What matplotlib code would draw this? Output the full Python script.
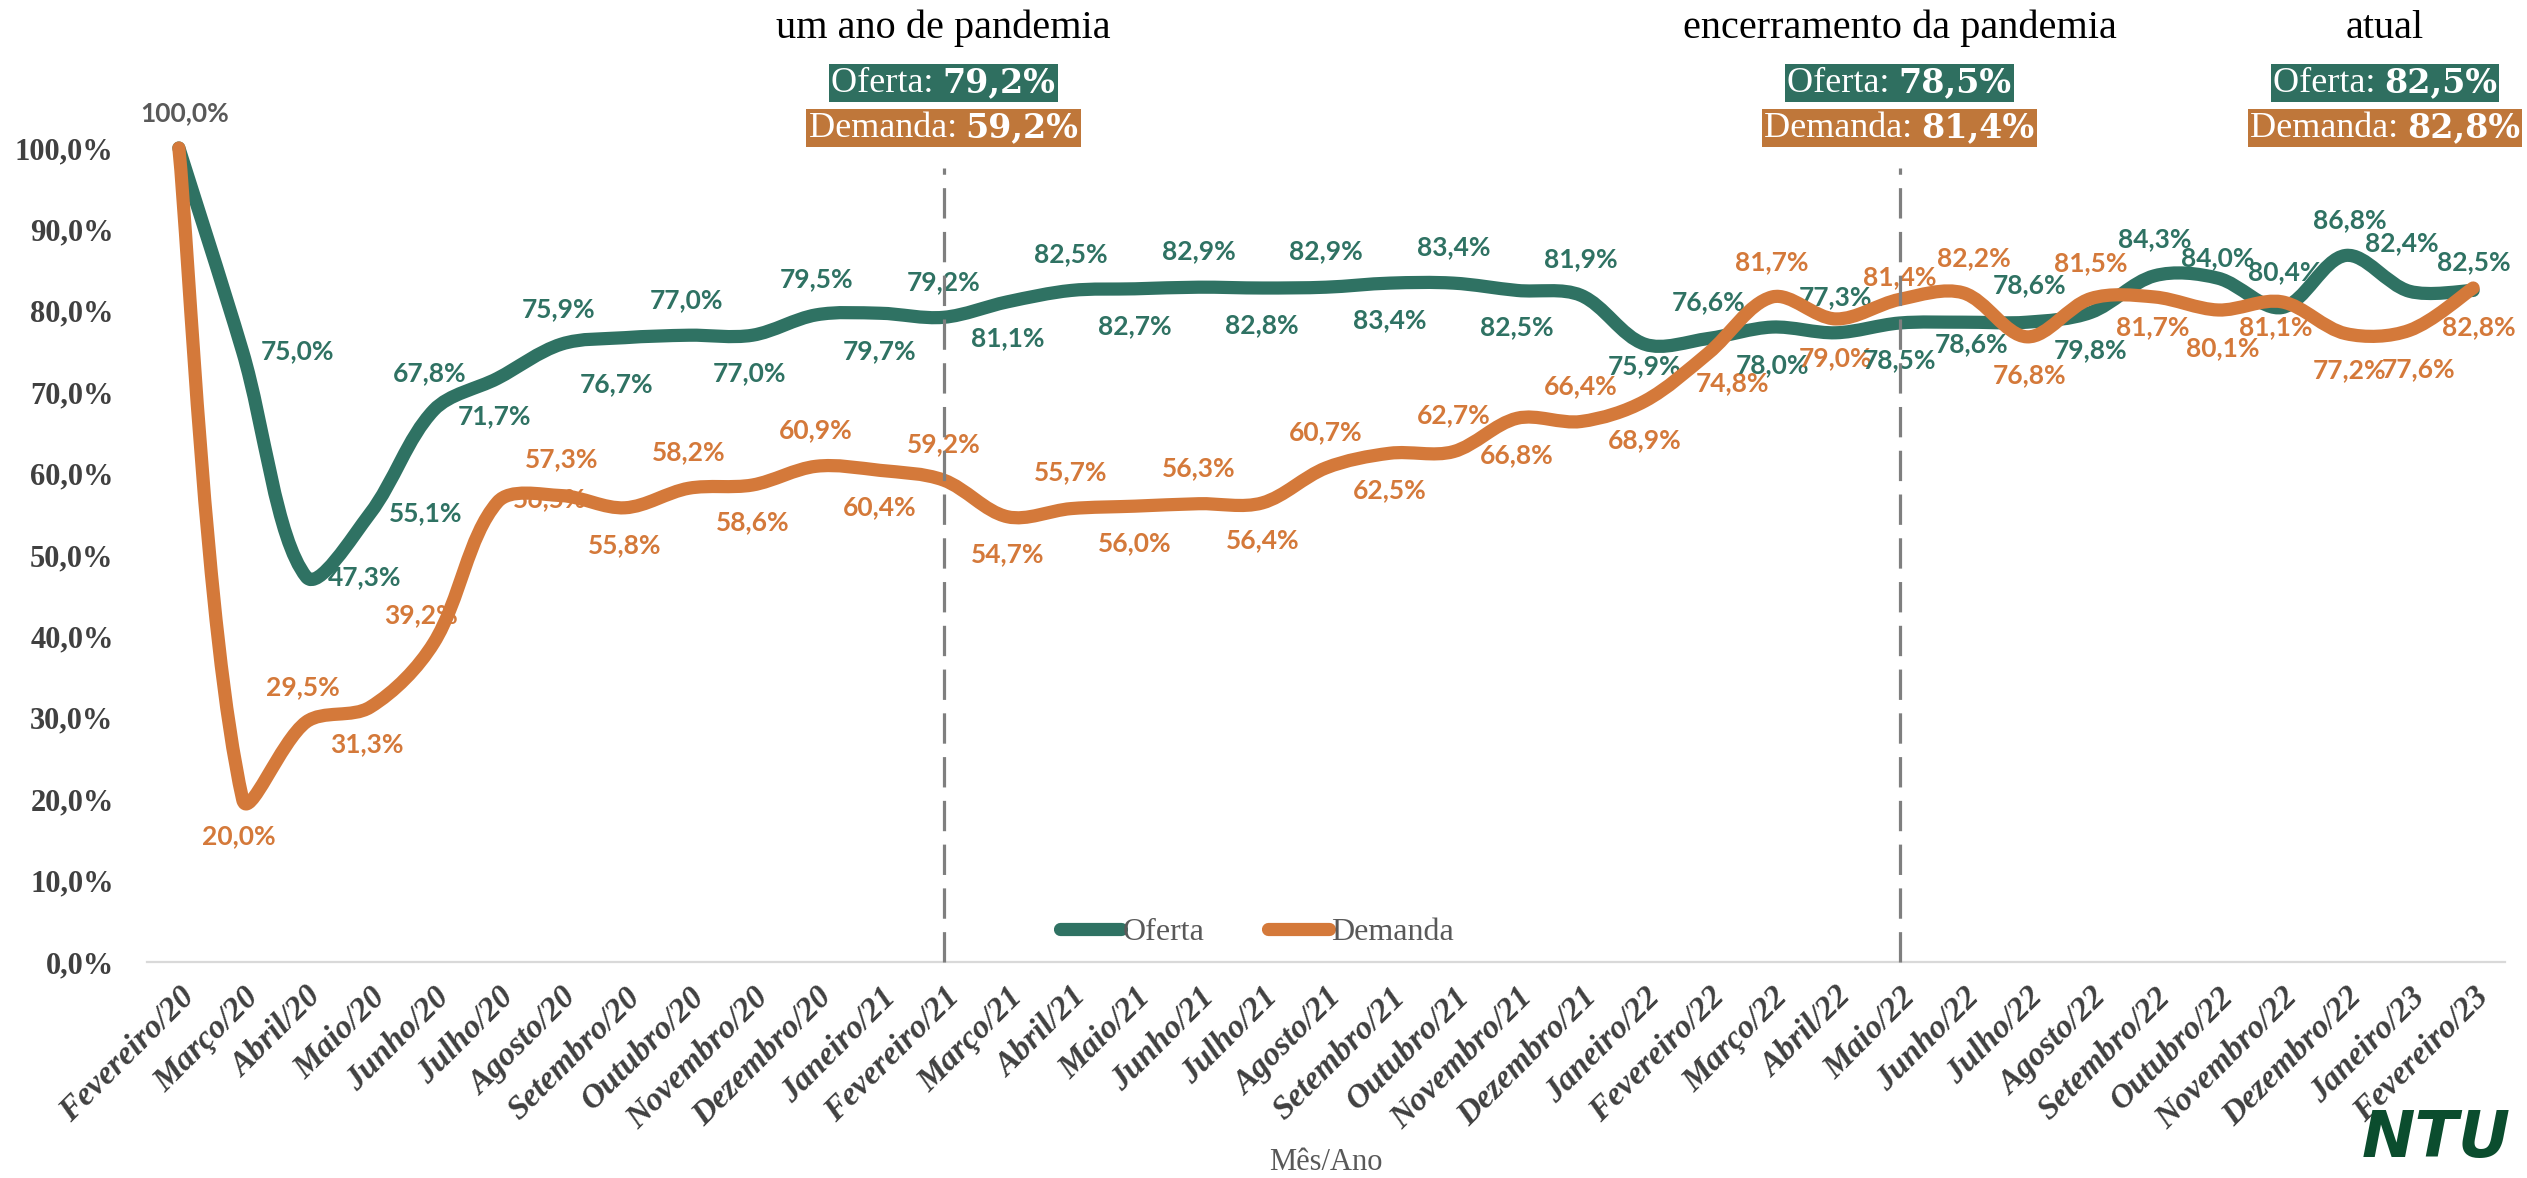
import matplotlib
matplotlib.use("Agg")
import matplotlib.pyplot as plt
import matplotlib.transforms as mtransforms
from matplotlib.path import Path
from matplotlib.patches import PathPatch
from matplotlib.lines import Line2D
from matplotlib.offsetbox import TextArea, HPacker, AnnotationBbox
import numpy as np

# ---------------- data ----------------
months = ["Fevereiro/20", "Março/20", "Abril/20", "Maio/20", "Junho/20", "Julho/20",
          "Agosto/20", "Setembro/20", "Outubro/20", "Novembro/20", "Dezembro/20",
          "Janeiro/21", "Fevereiro/21", "Março/21", "Abril/21", "Maio/21", "Junho/21",
          "Julho/21", "Agosto/21", "Setembro/21", "Outubro/21", "Novembro/21",
          "Dezembro/21", "Janeiro/22", "Fevereiro/22", "Março/22", "Abril/22",
          "Maio/22", "Junho/22", "Julho/22", "Agosto/22", "Setembro/22", "Outubro/22",
          "Novembro/22", "Dezembro/22", "Janeiro/23", "Fevereiro/23"]

oferta = [100.0, 75.0, 47.3, 55.1, 67.8, 71.7, 75.9, 76.7, 77.0, 77.0, 79.5, 79.7,
          79.2, 81.1, 82.5, 82.7, 82.9, 82.8, 82.9, 83.4, 83.4, 82.5, 81.9, 75.9,
          76.6, 78.0, 77.3, 78.5, 78.6, 78.6, 79.8, 84.3, 84.0, 80.4, 86.8, 82.4, 82.5]

demanda = [100.0, 20.0, 29.5, 31.3, 39.2, 56.5, 57.3, 55.8, 58.2, 58.6, 60.9, 60.4,
           59.2, 54.7, 55.7, 56.0, 56.3, 56.4, 60.7, 62.5, 62.7, 66.8, 66.4, 68.9,
           74.8, 81.7, 79.0, 81.4, 82.2, 76.8, 81.5, 81.7, 80.1, 81.1, 77.2, 77.6, 82.8]

events = ["um ano de pandemia", "encerramento da pandemia", "atual"]
event_idx = [12, 27, 36]

yticks = [0, 10, 20, 30, 40, 50, 60, 70, 80, 90, 100]

# ---------------- styles ----------------
C_OF = "#2F7263"
C_DE = "#D4793A"
C_OF_BOX = "#2F6F60"
C_DE_BOX = "#BF773A"
C_TXT = "#404040"
C_GRAY = "#595959"

# label offsets in pixels (dx, dy up)
OF_OFF = [(6, 35), (55, 0), (58, 0), (56, 0), (-4, 37), (-3, -38), (-3, 35), (-8, -46),
          (-2, 35), (-3, -38), (0, 36), (0, -38), (0, 35), (0, -36), (0, 36), (0, -37),
          (0, 36), (0, -37), (0, 36), (0, -37), (0, 36), (0, -37), (0, 36), (0, -22),
          (0, 36), (0, -38), (0, 36), (0, -37), (8, -22), (3, 37), (0, -38), (0, 37),
          (0, 20), (3, 35), (4, 35), (-8, 48), (1, 28)]
DE_OFF = [None, (-4, -37), (-3, 35), (-3, -37), (-13, 28), (52, 3), (0, 36), (0, -37),
          (0, 36), (0, -37), (0, 36), (0, -37), (0, 36), (0, -37), (0, 36), (0, -37),
          (0, 36), (0, -37), (0, 36), (0, -37), (0, 36), (0, -37), (0, 35), (0, -39),
          (24, -30), (0, 35), (0, -39), (0, 22), (11, 35), (3, -38), (0, 35), (-2, -30),
          (5, -38), (-6, -25), (4, -37), (9, -39), (6, -39)]

W, H = 2527, 1178
fig = plt.figure(figsize=(W / 100, H / 100), dpi=100)
AX_W_PX, AX_H_PX = 2358, 814
ax = fig.add_axes([147 / W, 1 - 962 / H, AX_W_PX / W, AX_H_PX / H])

n = len(months)
x = np.arange(n)
XSCALE = AX_W_PX / n        # pixels per category
YSCALE = AX_H_PX / 100.0    # pixels per percent


def smooth_path(xs, ys):
    """Excel-like smoothed line: cubic Bezier with chord-length scaled tangents."""
    pts = np.column_stack([xs, ys]).astype(float)
    scale = np.array([XSCALE, YSCALE])
    m = len(pts)

    def dist(a, b):
        return float(np.hypot(*((pts[a] - pts[b]) * scale)))

    verts = [pts[0]]
    codes = [Path.MOVETO]
    for i in range(m - 1):
        p1, p2 = pts[i], pts[i + 1]
        i0 = i - 1 if i > 0 else i
        i3 = i + 2 if i + 2 < m else i + 1
        d12 = dist(i, i + 1)
        d01 = dist(i0, i) if i0 != i else d12
        d23 = dist(i + 1, i3) if i3 != i + 1 else d12
        c1 = p1 + (p2 - pts[i0]) * (d12 / (d01 + d12)) / 3.0
        c2 = p2 - (pts[i3] - p1) * (d12 / (d12 + d23)) / 3.0
        verts += [c1, c2, p2]
        codes += [Path.CURVE4] * 3
    return Path(verts, codes)


for vals, col, z in [(oferta, C_OF, 3), (demanda, C_DE, 4)]:
    patch = PathPatch(smooth_path(x, vals), fill=False, edgecolor=col, lw=9.5,
                      capstyle="round", joinstyle="round", zorder=z, clip_on=False)
    ax.add_patch(patch)

ax.set_xlim(-0.5, n - 0.5)
ax.set_ylim(0, 100)


def fmt(v):
    return f"{v:.1f}".replace(".", ",") + "%"


# data labels
for i in range(n):
    dx, dy = OF_OFF[i]
    col = C_GRAY if i == 0 else C_OF
    ax.annotate(fmt(oferta[i]), xy=(i, oferta[i]), xytext=(dx * 0.72, dy * 0.72),
                textcoords="offset points", ha="center", va="center",
                fontsize=19, fontweight="bold", family="Lato", color=col,
                zorder=2, annotation_clip=False)
    if DE_OFF[i] is not None:
        dx, dy = DE_OFF[i]
        ax.annotate(fmt(demanda[i]), xy=(i, demanda[i]), xytext=(dx * 0.72, dy * 0.72),
                    textcoords="offset points", ha="center", va="center",
                    fontsize=19, fontweight="bold", family="Lato", color=C_DE,
                    zorder=2, annotation_clip=False)

# dashed event lines
for idx in event_idx[:2]:
    ax.plot([idx, idx], [0, 97.5], color="#7F7F7F", lw=2.3, dashes=(9.5, 4.2),
            zorder=6, clip_on=False)

# axes styling
for s in ["top", "right", "left"]:
    ax.spines[s].set_visible(False)
ax.spines["bottom"].set_color("#D9D9D9")
ax.spines["bottom"].set_linewidth(1.6)
ax.spines["bottom"].set_zorder(1)

ax.set_yticks(yticks)
ax.set_yticklabels([fmt(v) for v in yticks], family="Liberation Serif",
                   fontweight="bold", fontsize=22, color=C_TXT)
ax.tick_params(axis="y", length=0, pad=24)
ax.set_xticks(x)
ax.set_xticklabels(months, rotation=45, ha="right", va="top", rotation_mode="anchor",
                   family="Liberation Serif", fontweight="bold", fontstyle="italic",
                   fontsize=24, color=C_TXT)
ax.tick_params(axis="x", length=0, pad=14)

fig.text(1326 / W, 1 - 1162 / H, "Mês/Ano", ha="center", va="center",
         family="Liberation Serif", fontsize=22, color=C_GRAY)

# legend
handles = [Line2D([0], [0], color=C_OF, lw=9.5, solid_capstyle="round"),
           Line2D([0], [0], color=C_DE, lw=9.5, solid_capstyle="round")]
leg = ax.legend(handles, ["Oferta", "Demanda"], loc="center",
                bbox_to_anchor=(0.4707, 0.036), ncol=2, frameon=False,
                prop={"family": "Liberation Serif", "size": 23},
                handlelength=1.9, handletextpad=0.05, columnspacing=2.0)
for t in leg.get_texts():
    t.set_color(C_GRAY)

# event titles and boxes
blend = mtransforms.blended_transform_factory(ax.transData, fig.transFigure)
for k, (name, idx) in enumerate(zip(events, event_idx)):
    if k < 2:
        xpos, tr = idx, blend
    else:
        xpos, tr = 2385 / W, fig.transFigure
    fig.text(xpos, 1 - 38 / H, name, ha="center", va="baseline", transform=tr,
             family="Liberation Serif", fontsize=29, color="black")
    for lab, val, col, yc in [("Oferta: ", oferta[idx], C_OF_BOX, 83),
                              ("Demanda: ", demanda[idx], C_DE_BOX, 128)]:
        t1 = TextArea(lab, textprops=dict(family="Liberation Serif", fontsize=26,
                                          color="white"))
        t2 = TextArea(fmt(val), textprops=dict(family="DejaVu Serif", fontsize=24,
                                               fontweight="bold", color="white"))
        pack = HPacker(children=[t1, t2], align="baseline", pad=0, sep=0)
        ab = AnnotationBbox(pack, (xpos, 1 - yc / H), xycoords=tr,
                            box_alignment=(0.5, 0.5), frameon=True, pad=0.15,
                            bboxprops=dict(facecolor=col, edgecolor="none",
                                           boxstyle="square,pad=0.15"),
                            annotation_clip=False, zorder=10)
        fig.add_artist(ab)

# logo
fig.text(2362 / W, 1 - 1108 / H, "NTU", ha="left", va="top", family="DejaVu Sans",
         fontweight="bold", fontstyle="italic", fontsize=46, color="#0B4D2E")

fig.savefig("out.png", dpi=100)
